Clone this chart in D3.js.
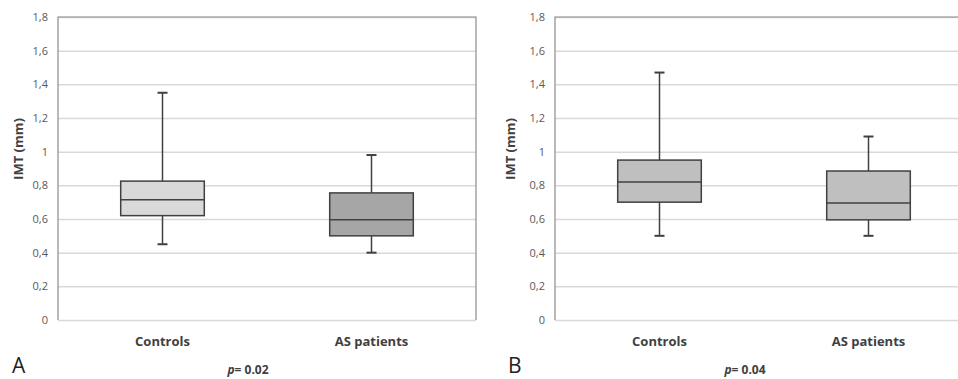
<!DOCTYPE html>
<html>
<head>
    <meta charset='utf-8'>
    <title>IMT boxplots</title>
    <script src='https://cdn.jsdelivr.net/npm/d3@7'></script>
    <style>
        body { margin: 0; background: #fff; }
        text { font-family: 'Open Sans', 'Noto Sans', sans-serif; }
    </style>
</head>
<body>
    <svg width='958' height='379'></svg>
    <script>
        // data
        const categories = ['Controls', 'AS patients']
        const yTicks = [0, 0.2, 0.4, 0.6, 0.8, 1, 1.2, 1.4, 1.6, 1.8]

        const minA = [0.45, 0.40]
        const q1A = [0.62, 0.50]
        const medA = [0.715, 0.595]
        const q3A = [0.825, 0.755]
        const maxA = [1.35, 0.98]

        const minB = [0.50, 0.50]
        const q1B = [0.70, 0.595]
        const medB = [0.82, 0.695]
        const q3B = [0.95, 0.885]
        const maxB = [1.47, 1.09]

        const panels = [
            { letter: 'A', p: '0.02', left: 58, labelX: 18, letterX: 12, fills: ['#d9d9d9', '#a6a6a6'],
              min: minA, q1: q1A, med: medA, q3: q3A, max: maxA },
            { letter: 'B', p: '0.04', left: 555, labelX: 510, letterX: 508, fills: ['#bfbfbf', '#bfbfbf'],
              min: minB, q1: q1B, med: medB, q3: q3B, max: maxB }
        ]

        const svg = d3.select('svg')
        const plotTop = 17, plotH = 303, plotW = 418
        const dark = '#404040'

        panels.forEach(pn => {
            const g = svg.append('g').attr('transform', `translate(${pn.left}, ${plotTop})`)
            const x = d3.scaleBand(categories, [0, plotW])
            const y = d3.scaleLinear([0, 1.8], [plotH, 0])

            // gridlines + tick labels
            const yAxis = d3.axisLeft(y).tickValues(yTicks).tickSize(-plotW).tickPadding(10)
                .tickFormat(d => String(d).replace('.', ','))
            const gy = g.append('g').call(yAxis)
            gy.select('.domain').remove()
            gy.selectAll('.tick line').attr('stroke', '#d9d9d9').attr('stroke-width', 1.5)
            gy.selectAll('.tick text').attr('fill', '#595959').attr('font-size', 11)

            // frame
            g.append('path')
                .attr('d', `M0,${plotH}V0H${plotW}V${plotH}`)
                .attr('fill', 'none').attr('stroke', '#8c8c8c').attr('stroke-width', 1.2)

            // category labels
            const gx = g.append('g').attr('transform', `translate(0, ${plotH})`)
                .call(d3.axisBottom(x).tickSize(0).tickPadding(17))
            gx.select('.domain').remove()
            gx.selectAll('.tick text').attr('fill', dark).attr('font-size', 13).attr('font-weight', 'bold')

            // boxes
            const bw = x.bandwidth() * 0.4
            const rows = categories.map((c, i) => ({
                c, i, min: pn.min[i], q1: pn.q1[i], med: pn.med[i], q3: pn.q3[i], max: pn.max[i]
            }))
            const bg = g.selectAll('.box').data(rows).join('g')
                .attr('transform', d => `translate(${x(d.c) + x.bandwidth() / 2}, 0)`)

            bg.append('line').attr('y1', d => y(d.max)).attr('y2', d => y(d.q3))
                .attr('stroke', dark).attr('stroke-width', 1.5)
            bg.append('line').attr('y1', d => y(d.q1)).attr('y2', d => y(d.min))
                .attr('stroke', dark).attr('stroke-width', 1.5)
            bg.append('line').attr('x1', -5).attr('x2', 5)
                .attr('y1', d => y(d.max)).attr('y2', d => y(d.max))
                .attr('stroke', dark).attr('stroke-width', 2)
            bg.append('line').attr('x1', -5).attr('x2', 5)
                .attr('y1', d => y(d.min)).attr('y2', d => y(d.min))
                .attr('stroke', dark).attr('stroke-width', 2)
            bg.append('rect')
                .attr('x', -bw / 2).attr('width', bw)
                .attr('y', d => y(d.q3)).attr('height', d => y(d.q1) - y(d.q3))
                .attr('fill', d => pn.fills[d.i]).attr('stroke', dark).attr('stroke-width', 1.5)
            bg.append('line').attr('x1', -bw / 2).attr('x2', bw / 2)
                .attr('y1', d => y(d.med)).attr('y2', d => y(d.med))
                .attr('stroke', dark).attr('stroke-width', 1.5)

            // y axis title
            svg.append('text')
                .attr('transform', `translate(${pn.labelX}, 149) rotate(-90)`)
                .attr('text-anchor', 'middle').attr('dominant-baseline', 'central')
                .attr('font-size', 13).attr('font-weight', 'bold').attr('fill', dark)
                .text('IMT (mm)')

            // panel letter
            svg.append('text').attr('x', pn.letterX).attr('y', 373)
                .attr('font-size', 21).attr('fill', '#222')
                .text(pn.letter)

            // p value
            const pt = svg.append('text')
                .attr('x', pn.left + 190).attr('y', 374)
                .attr('text-anchor', 'middle')
                .attr('font-size', 12).attr('font-weight', 'bold').attr('fill', dark)
            pt.append('tspan').attr('font-style', 'italic').text('p')
            pt.append('tspan').text('= ' + pn.p)
        })
    </script>
</body>
</html>
